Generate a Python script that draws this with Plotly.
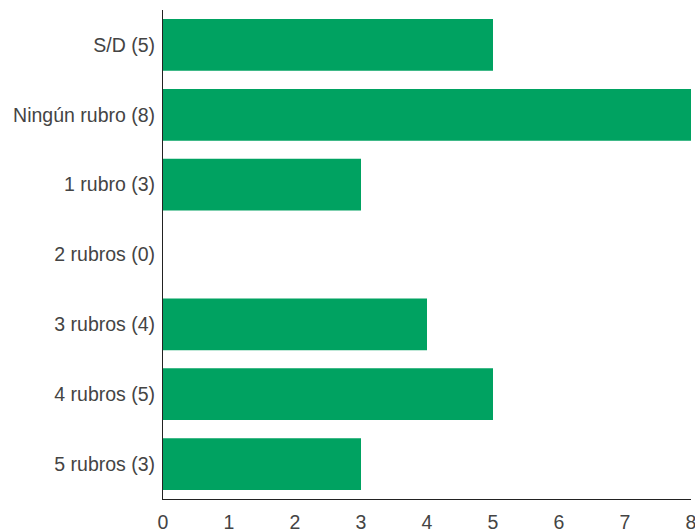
import plotly.graph_objects as go

categories = ["S/D (5)", "Ningún rubro (8)", "1 rubro (3)", "2 rubros (0)",
              "3 rubros (4)", "4 rubros (5)", "5 rubros (3)"]
values = [5, 8, 3, 0, 4, 5, 3]
x_ticks = [0, 1, 2, 3, 4, 5, 6, 7, 8]

fig = go.Figure(go.Bar(
    x=values, y=categories, orientation="h",
    marker=dict(color="#00A261", line=dict(width=0)),
))

fig.update_layout(
    width=695, height=531,
    margin=dict(l=163, r=4, t=10, b=32),
    plot_bgcolor="white", paper_bgcolor="white",
    bargap=0.26,
    font=dict(family="Liberation Sans, Arial, sans-serif", size=19.5, color="#444444"),
    showlegend=False,
)
fig.update_xaxes(range=[0, 8], tickvals=x_ticks, showgrid=False, zeroline=False,
                 showline=True, linecolor="#222", linewidth=1, ticks="",
                 ticklabelstandoff=6, automargin=False, ticklabeloverflow="allow")
fig.update_yaxes(categoryorder="array", categoryarray=categories, autorange="reversed",
                 showgrid=False, zeroline=False, showline=True, linecolor="#222",
                 linewidth=1, ticks="", ticklabelstandoff=3, automargin=False)

fig.write_html(
    "out.html",
    config={"displayModeBar": False},
    post_script="document.body.style.margin='0';document.body.style.overflow='hidden';",
)
